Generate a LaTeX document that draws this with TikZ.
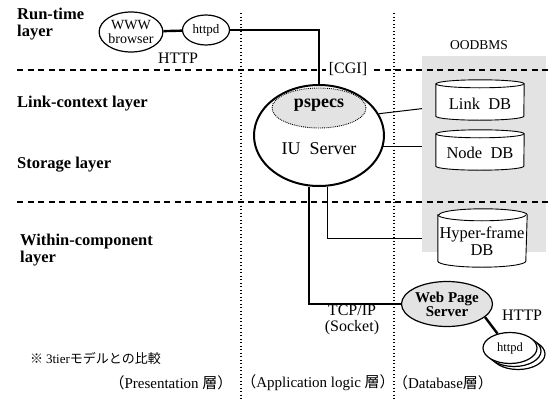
\documentclass[tikz,border=0pt]{standalone}
\usepackage{fontspec}
\setmainfont{Liberation Serif}
\newfontfamily\jp{Noto Sans CJK JP}
\usetikzlibrary{shapes.geometric,backgrounds}

\tikzset{
  layerlabel/.style={font=\fontsize{16.5}{17}\selectfont\bfseries, align=left, anchor=west, inner sep=0},
  plainlabel/.style={font=\fontsize{16}{16}\selectfont, inner sep=1pt},
  smalllabel/.style={font=\fontsize{13.5}{14}\selectfont, inner sep=1pt},
  oval/.style={ellipse, draw, line width=1.2pt, fill=white, inner sep=0, align=center},
  stipple/.style={fill=black!11},
  dbbody/.style={rectangle, inner sep=0, align=center, font=\fontsize{16.5}{17}\selectfont},
  dbline/.style={line width=0.9pt},
  thickline/.style={line width=2.4pt},
  thinline/.style={line width=1pt},
  tierline/.style={line width=1.1pt, dash pattern=on 1.1pt off 2.4pt},
  layerline/.style={line width=1.1pt, dash pattern=on 6pt off 4.5pt},
  tierlabel/.style={font=\fontsize{15}{16}\selectfont, inner sep=0}
}

\begin{document}
\begin{tikzpicture}[x=1pt, y=-1pt]
\useasboundingbox (0,0) rectangle (552,399);

% grey OODBMS area
\fill[stipple] (422,56) rectangle (546,252);

% tier separators and layer separators
\draw[tierline] (241,13) -- (241,399);
\draw[tierline] (394,13) -- (394,399);
\draw[layerline] (17,70) -- (552,70);
\draw[layerline] (17,202) -- (552,202);

% layer names
\node[layerlabel] (lrun) at (17,24) {Run-time\\layer};
\node[layerlabel] (llink) at (17,104) {Link-context layer};
\node[layerlabel] (lstore) at (17,165) {Storage layer};
\node[layerlabel] (lwithin) at (20,250) {Within-component\\layer};

% run-time components
\node[oval, minimum width=61, minimum height=40, font=\fontsize{14}{14}\selectfont] (browser) at (131,32) {WWW\\browser};
\node[oval, minimum width=47, minimum height=30, font=\fontsize{13}{14}\selectfont] (httpd) at (206,30) {httpd};
\node[plainlabel] (http1) at (178,58) {HTTP};

% IU server with pspecs
\node[oval, line width=2pt, minimum width=130, minimum height=101] (iu) at (319,135.5) {};
\node[ellipse, stipple, draw, densely dotted, line width=0.9pt, minimum width=94, minimum height=40, inner sep=0] (pspecs) at (319,108) {};
\node[font=\fontsize{18}{19}\selectfont\bfseries] (pspecslabel) at (319,105) {pspecs};
\node[font=\fontsize{18}{19}\selectfont] (iulabel) at (319,149) {IU\ \ Server};
\node[plainlabel, fill=white, inner xsep=3pt] (cgi) at (348,69) {[CGI]};
\node[smalllabel] (oodbms) at (479,45) {OODBMS};

% databases (cylinders)
\node[dbbody, minimum width=88, minimum height=32] (linkdb) at (480,100) {};
\node[dbbody, minimum width=88, minimum height=32] (nodedb) at (480,150) {};
\node[dbbody, minimum width=89, minimum height=46] (hyperdb) at (482.5,238) {};
\foreach \db/\ry in {linkdb/4, nodedb/4, hyperdb/6}{
  \path[fill=white, draw, dbline]
    (\db.north west) -- (\db.south west)
    arc[start angle=180, end angle=360, x radius=0.5*88, y radius=-\ry]
    -- (\db.north east)
    arc[start angle=0, end angle=180, x radius=0.5*88, y radius=-\ry] -- cycle;
  \draw[dbline] (\db.north west)
    arc[start angle=180, end angle=360, x radius=0.5*88, y radius=-\ry];
}
\node[dbbody] (linklabel) at (480,104) {Link\ \ DB};
\node[dbbody] (nodelabel) at (480,153) {Node\ \ DB};
\node[dbbody] (hyperlabel) at (482,241) {Hyper-frame\\DB};

% web page server and httpd processes
\node[oval, stipple, minimum width=91, minimum height=45, font=\fontsize{15}{14}\selectfont\bfseries] (wps) at (447,304) {Web Page\\Server};
\node[oval, minimum width=54, minimum height=31] (httpdc) at (518,354) {};
\node[oval, minimum width=54, minimum height=31] (httpdb) at (514,351) {};
\node[oval, minimum width=54, minimum height=31, font=\fontsize{12.5}{13}\selectfont] (httpda) at (510,348) {httpd};
\node[plainlabel] (http2) at (522,315) {HTTP};
\node[plainlabel, align=center] (tcp) at (352,320) {TCP/IP\\(Socket)};

% notes and tier names
\node[tierlabel, font=\fontsize{13}{14}\selectfont, anchor=west] (note) at (30,358) {\jp ※ \normalfont 3tier\jp モデルとの比較};
\node[tierlabel] (tpres) at (171,383) {\jp （\normalfont Presentation \jp 層）};
\node[tierlabel] (tapp) at (318,383) {\jp （\normalfont Application logic \jp 層）};
\node[tierlabel] (tdb) at (443,383) {\jp （\normalfont Database\jp 層）};

% connectors
\begin{scope}[on background layer]
\draw[thickline] (browser) -- (httpd);
\draw[thickline] (httpd.east) -| (iu.north);
\draw[thinline] (iu.20) -- ([yshift=-7pt]linkdb.west);
\draw[thinline] (iu.-10) -- (iu.-10 -| nodedb.west);
\draw[thinline] ([xshift=8pt]iu.south) |- (hyperdb.west);
\draw[thickline] ([xshift=-10pt]iu.south) |- (wps.west);
\draw[thickline] (wps.-19) -- (httpda.131);
\end{scope}
\end{tikzpicture}
\end{document}
